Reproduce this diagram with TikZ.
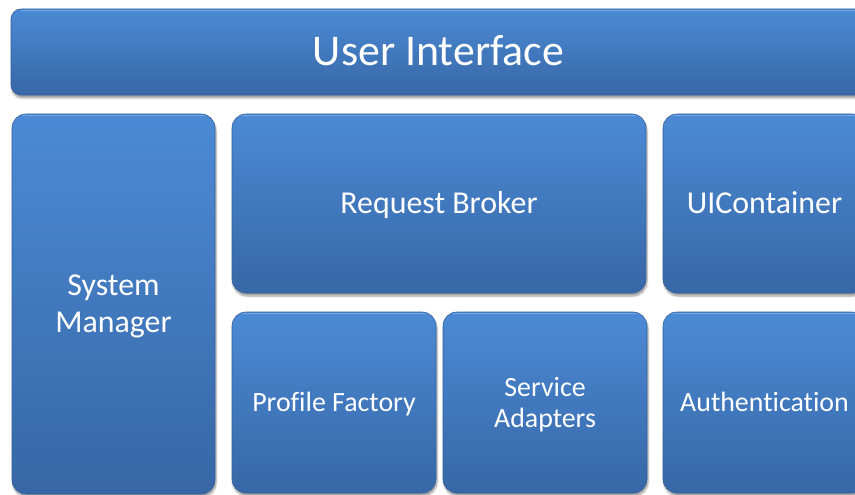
\documentclass[tikz,border=0pt]{standalone}
\usepackage{fontspec}
\setmainfont[Ligatures={NoCommon}]{Carlito}
\usepackage{xcolor}
\definecolor{blocktop}{HTML}{4C8AD5}
\definecolor{blockbot}{HTML}{3767A6}
\definecolor{blockedge}{HTML}{33609C}
\definecolor{blockshine}{HTML}{7FAEE6}
\usepackage{tikz}
\usetikzlibrary{positioning, shadows.blur}
\tikzset{
  layer/.style ={rectangle, rounded corners=14bp, draw=blockedge, line width=0.6pt,
                 top color=blocktop, bottom color=blockbot, text=white, align=center,
                 inner sep=0pt, outer sep=0pt, anchor=north west,
                 blur shadow={shadow xshift=1bp, shadow yshift=-3bp, shadow blur steps=6, shadow opacity=40},
                 path picture={\draw[blockshine, line width=1.2pt, opacity=0.8]
                   ([xshift=10bp, yshift=-1.5bp]path picture bounding box.north west) --
                   ([xshift=-10bp, yshift=-1.5bp]path picture bounding box.north east);}},
  layerbig/.style ={layer, font=\fontsize{44}{50}\selectfont, text height=28bp, text depth=0pt},
  layermid/.style ={layer, font=\fontsize{32}{37}\selectfont},
  layersmall/.style={layer, font=\fontsize{28}{31}\selectfont},
  % single line labels: centre on the capitals
  oneline/.style={text height=#1, text depth=0pt},
}

\begin{document}
\begin{tikzpicture}[x=1bp, y=-1bp]
  \useasboundingbox (0,0) rectangle (855,495);
  \clip (0,0) rectangle (855,495);
  % top bar
  \node[layerbig, rounded corners=10bp, minimum width=855bp, minimum height=86bp] (ui) at (11,9) {User Interface};
  % left column
  \node[layermid, text depth=0pt, minimum width=203bp, minimum height=380bp] (sysmgr) at (12,114) {System\\Manager};
  % middle row
  \node[layermid, oneline=20.5bp, minimum width=414bp, minimum height=179bp] (broker) at (232,114) {Request Broker};
  \node[layermid, oneline=20.5bp, minimum width=203bp, minimum height=179bp] (uicont) at (663,114) {UIContainer};
  % bottom row
  \node[layersmall, oneline=18bp, minimum width=204bp, minimum height=181bp] (profile) at (232,312) {Profile Factory};
  \node[layersmall, text depth=0pt, minimum width=204bp, minimum height=181bp] (adapters) at (443,312) {Service\\Adapters};
  \node[layersmall, oneline=18bp, minimum width=203bp, minimum height=181bp] (auth) at (663,312) {Authentication};
\end{tikzpicture}
\end{document}
